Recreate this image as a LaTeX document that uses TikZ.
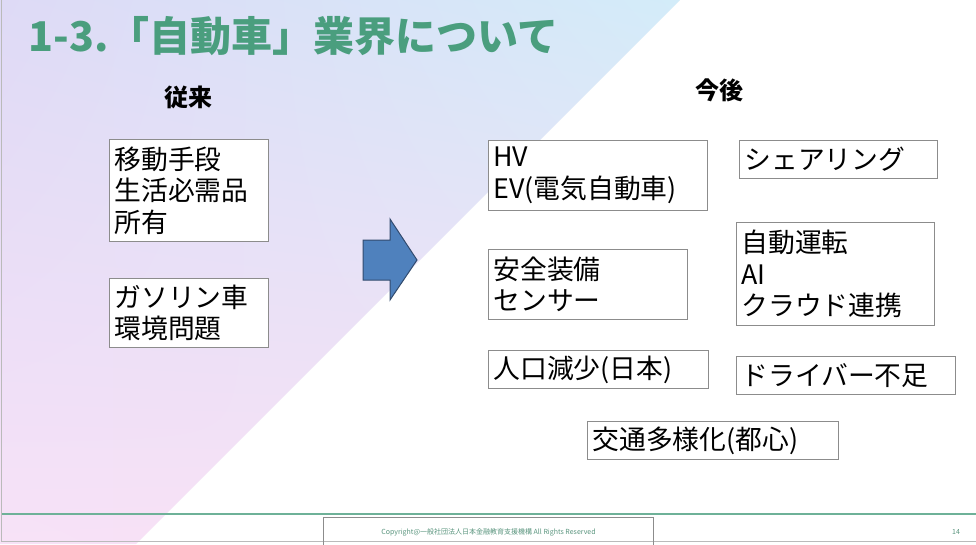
\documentclass[tikz,border=0pt]{standalone}
\usepackage{fontspec}
\usepackage{tikz}
\usetikzlibrary{shadings}
\newfontfamily\jpfont{Noto Sans CJK JP}
\definecolor{titlegreen}{RGB}{74,158,126}
\definecolor{boxgray}{RGB}{140,140,140}
\definecolor{arrowblue}{RGB}{79,129,189}
\definecolor{arrowline}{RGB}{50,75,110}
\definecolor{bglavender}{RGB}{222,218,246}
\definecolor{bgblue}{RGB}{211,236,249}
\definecolor{bgpink}{RGB}{247,226,247}
\definecolor{bgrose}{RGB}{249,222,244}
\tikzset{
  item/.style={draw=boxgray,fill=white,line width=0.9pt,anchor=north west,align=left,
    inner xsep=5pt,inner ysep=0pt,font=\jpfont\fontsize{26.8}{31.5}\selectfont}
}

\begin{document}
\begin{tikzpicture}[x=1pt,y=-1pt]
  \useasboundingbox (0,0) rectangle (976,544);
  \fill[white] (0,0) rectangle (976,544);
  \begin{scope}
    \clip (0,0) -- (680,0) -- (136,544) -- (0,544) -- cycle;
    \shade[upper left=bglavender,upper right=bgblue,lower left=bgpink,lower right=bgrose]
      (0,0) rectangle (680,544);
  \end{scope}
  \draw[boxgray!60,line width=1pt] (1,0) -- (1,541) -- (976,541);
  \draw[titlegreen!80,line width=1.2pt] (2,514) -- (976,514);
  \node[draw=boxgray,line width=1pt,minimum width=330pt,minimum height=30pt,anchor=north west] (footer) at (323,517) {};
  \node[font=\jpfont\fontsize{7}{8}\selectfont,text=titlegreen!70!gray] (copy) at (footer.center) {Copyright@一般社団法人日本金融教育支援機構 All Rights Reserved};
  \node[font=\jpfont\fontsize{7}{8}\selectfont,text=titlegreen!70!gray] (page) at (956,532) {14};
  \node[font=\jpfont\bfseries\fontsize{41}{43}\selectfont,text=titlegreen,anchor=west] (title) at (25,36) {1-3.「自動車」業界について};
  \node[font=\jpfont\bfseries\fontsize{24}{26}\selectfont] (before) at (188,97) {従来};
  \node[font=\jpfont\bfseries\fontsize{24}{26}\selectfont] (after) at (719,90) {今後};
  % left side
  \node[item,minimum width=159pt,minimum height=102pt,text width=149pt] (move) at (109,139) {移動手段\\生活必需品\\所有};
  \node[item,minimum width=159pt,minimum height=69pt,text width=149pt] (gas) at (109,278) {ガソリン車\\環境問題};
  % arrow
  \draw[fill=arrowblue,draw=arrowline,line width=1pt] (363,240) -- (390,240) -- (390,219) -- (417,260) -- (390,300) -- (390,280) -- (363,280) -- cycle;
  % right side
  \node[item,minimum width=219pt,minimum height=70pt,text width=209pt] (hv) at (488,140) {HV\\EV(電気自動車)};
  \node[item,minimum width=198pt,minimum height=38pt,text width=188pt] (share) at (739,140) {シェアリング};
  \node[item,minimum width=198pt,minimum height=103pt,text width=188pt] (auto) at (736,222) {自動運転\\AI\\クラウド連携};
  \node[item,minimum width=199pt,minimum height=70pt,text width=189pt] (safe) at (488,249) {安全装備\\センサー};
  \node[item,minimum width=220pt,minimum height=38pt,text width=210pt] (pop) at (488,350) {人口減少(日本)};
  \node[item,minimum width=219pt,minimum height=38pt,text width=209pt] (driver) at (736,356) {ドライバー不足};
  \node[item,minimum width=251pt,minimum height=38pt,text width=241pt] (traffic) at (587,421) {交通多様化(都心)};
\end{tikzpicture}
\end{document}
